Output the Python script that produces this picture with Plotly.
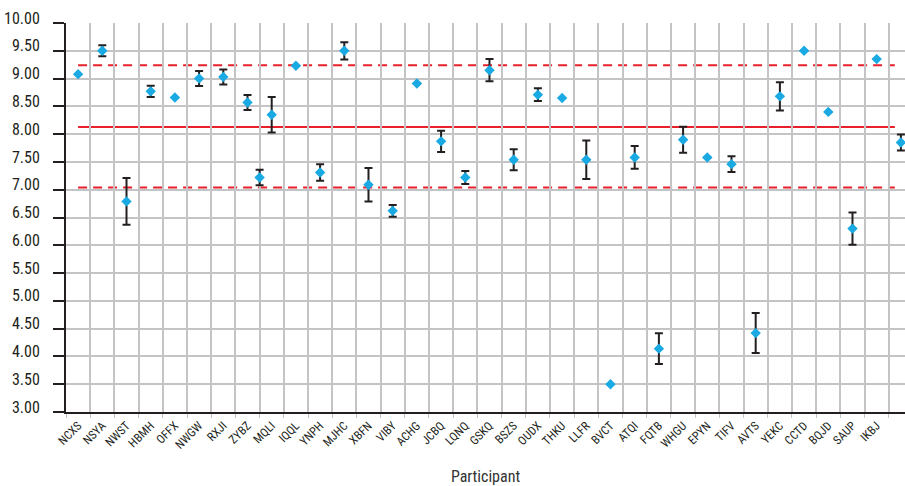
import plotly.graph_objects as go

participants = ["NCXS", "NSYA", "NWST", "HBMH", "OFFX", "NWGW", "RXJI", "ZYBZ", "MQLI", "IQQL",
                "YNPH", "MJHC", "XBFN", "VIBY", "ACHG", "JCBQ", "LQNQ", "GSKQ", "BSZS", "OUDX",
                "THKU", "LLFR", "BVCT", "ATQI", "FQTB", "WHGU", "EPYN", "TIFV", "AVTS", "YEKC",
                "CCTD", "BQJD", "SAUP", "IKBJ", "WVER"]
values = [9.08, 9.50, 6.79, 8.77, 8.66, 9.00, 9.03, 8.57, 8.35, 9.23,
          7.31, 9.50, 7.09, 6.62, 8.91, 7.87, 7.22, 9.15, 7.54, 8.71,
          8.65, 7.54, 3.50, 7.58, 4.14, 7.90, 7.58, 7.46, 4.42, 8.68,
          9.50, 8.40, 6.30, 9.35, 7.85]
errors = [0, 0.10, 0.42, 0.10, 0, 0.135, 0.135, 0.135, 0.32, 0,
          0.15, 0.155, 0.30, 0.105, 0, 0.19, 0.115, 0.20, 0.19, 0.115,
          0, 0.345, 0, 0.205, 0.275, 0.235, 0, 0.14, 0.36, 0.255,
          0, 0, 0.29, 0, 0.145]

# one additional point plotted between ZYBZ and MQLI
extra_x = [7.5]
extra_values = [7.22]
extra_errors = [0.14]

mean_value = 8.13
upper_limit = 9.24
lower_limit = 7.04
line_start, line_end = 0, 33.75

y_ticks = [3.0 + 0.5 * i for i in range(15)]

blue = "#19a9e3"
red = "#e8202a"
err_color = "#231f20"
grid = "#c4c4c6"
font_family = "Liberation Sans Narrow, Roboto Condensed, Arial Narrow, Roboto, sans-serif"

x_idx = list(range(len(participants)))

fig = go.Figure()
fig.add_trace(go.Scatter(
    x=x_idx, y=values, mode="markers",
    marker=dict(symbol="diamond", size=8, color=blue, line=dict(width=0)),
    error_y=dict(type="data", array=errors, visible=True, color=err_color, thickness=2, width=4),
    showlegend=False, cliponaxis=False,
))
fig.add_trace(go.Scatter(
    x=extra_x, y=extra_values, mode="markers",
    marker=dict(symbol="diamond", size=8, color=blue, line=dict(width=0)),
    error_y=dict(type="data", array=extra_errors, visible=True, color=err_color, thickness=2, width=4),
    showlegend=False,
))

for val, dash in [(upper_limit, "dash"), (mean_value, "solid"), (lower_limit, "dash")]:
    fig.add_shape(type="line", xref="x", yref="y", x0=line_start, x1=line_end, y0=val, y1=val,
                  line=dict(color=red, width=2, dash="9px,6px" if dash == "dash" else "solid"),
                  layer="below")

fig.update_layout(
    width=905, height=486,
    margin=dict(l=66, r=0, t=23, b=74),
    paper_bgcolor="white", plot_bgcolor="white",
    font=dict(family=font_family, color="#231f20"),
    xaxis=dict(
        range=[-0.5, 34.17], automargin=False,
        tickmode="array", tickvals=x_idx, ticktext=participants,
        tickangle=-45, tickfont=dict(size=12, family=font_family, color="#231f20"),
        showgrid=False, ticks="", zeroline=False,
        showline=True, linecolor="#231f20", linewidth=2,
        minor=dict(tickvals=[i + 0.5 for i in range(-1, len(participants))], showgrid=True,
                   gridcolor=grid, gridwidth=1.5, ticks="outside", ticklen=4, tickcolor=grid),
        title=dict(text="Participant", font=dict(size=16, family=font_family, color="#333333"), standoff=20),
    ),
    yaxis=dict(
        range=[3, 10], automargin=False, tickmode="array", tickvals=y_ticks,
        ticktext=[f"{v:.2f}" for v in y_ticks],
        tickfont=dict(size=16, family=font_family, color="#231f20"),
        showgrid=True, gridcolor=grid, gridwidth=1.5, zeroline=False,
        ticks="outside", ticklen=11, tickwidth=2, tickcolor="#231f20",
        showline=True, linecolor="#231f20", linewidth=2,
        ticklabelstandoff=10, ticklabelshift=-5,
    ),
)

fig.write_html("out.html", config={"displayModeBar": False},
               post_script="document.body.style.margin='0';document.body.style.overflow='hidden';")
